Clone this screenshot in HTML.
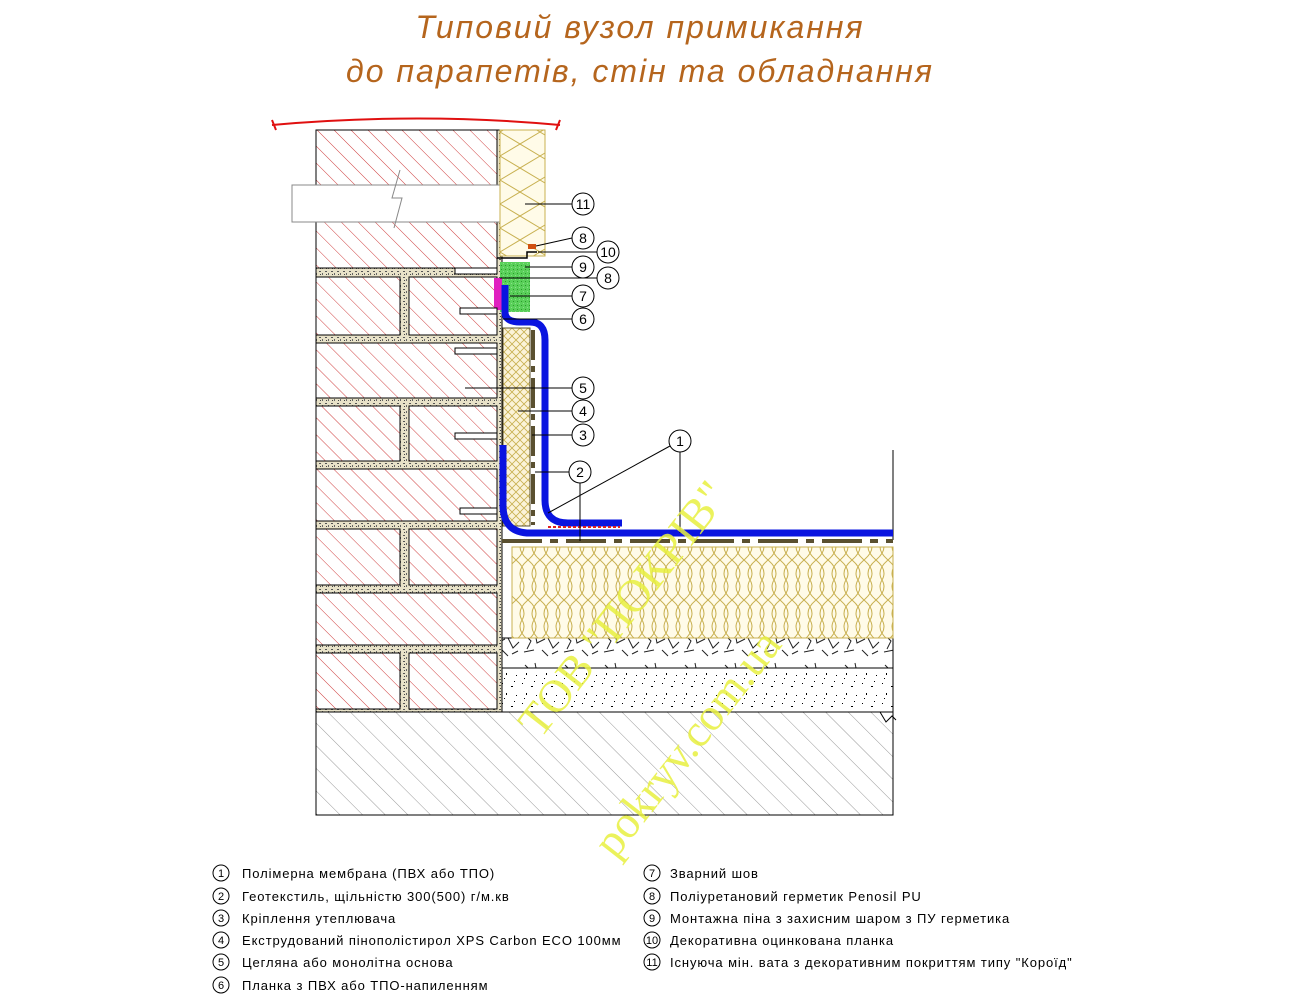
<!DOCTYPE html>
<html><head><meta charset="utf-8"><style>
html,body{margin:0;padding:0;background:#fff;}
svg{display:block;}
.t{font-family:"Liberation Sans","DejaVu Sans",sans-serif;}
</style></head><body>
<svg width="1302" height="1006" viewBox="0 0 1302 1006" xmlns="http://www.w3.org/2000/svg">
<defs>
<pattern id="brick" width="12" height="12" patternUnits="userSpaceOnUse" patternTransform="rotate(-45)">
<rect width="12" height="12" fill="#fff"/><line x1="0" y1="0" x2="0" y2="12" stroke="#d04040" stroke-width="1"/></pattern>
<pattern id="slab" width="16" height="16" patternUnits="userSpaceOnUse" patternTransform="rotate(-45)">
<rect width="16" height="16" fill="#fff"/><line x1="0" y1="0" x2="0" y2="16" stroke="#999" stroke-width="1"/></pattern>
<pattern id="mortar" width="6" height="6" patternUnits="userSpaceOnUse">
<rect width="6" height="6" fill="#e8e2c8"/><rect x="1" y="1" width="2" height="1" fill="#555"/><rect x="4" y="3" width="1" height="2" fill="#666"/><rect x="2" y="4" width="1" height="1" fill="#444"/></pattern>
<pattern id="wool" width="24" height="40" patternUnits="userSpaceOnUse">
<rect width="24" height="40" fill="#fffbe8"/><path d="M0 0 Q12 10 6 20 Q0 30 12 40 M12 0 Q0 10 6 20 Q12 30 0 40 M12 0 Q24 10 18 20 Q12 30 24 40 M24 0 Q12 10 18 20 Q24 30 12 40" fill="none" stroke="#c8b050" stroke-width="1"/></pattern>
<pattern id="woolv" width="40" height="24" patternUnits="userSpaceOnUse">
<rect width="40" height="24" fill="#fffbe8"/><path d="M0 0 L20 12 L0 24 M40 0 L20 12 L40 24" fill="none" stroke="#c8b050" stroke-width="1"/></pattern>
<pattern id="xps" width="8" height="8" patternUnits="userSpaceOnUse">
<rect width="8" height="8" fill="#fbf3d8"/><path d="M0 0 L8 8 M8 0 L0 8" stroke="#c8b050" stroke-width="0.8"/></pattern>
<pattern id="foam" width="4" height="4" patternUnits="userSpaceOnUse">
<rect width="4" height="4" fill="#5ad05a"/><rect x="1" y="1" width="1" height="1" fill="#2a9a2a"/><rect x="3" y="3" width="1" height="1" fill="#8ae08a"/></pattern>
<pattern id="gravel" width="40" height="30" patternUnits="userSpaceOnUse">
<rect width="40" height="30" fill="#fff"/><path d="M5 5 l6 6 l-4 8 M15 3 l2 10 l8 -4 M28 8 l5 10 l6 -6 M4 22 l10 -2 M22 20 l6 6 M32 24 l6 -3" stroke="#222" stroke-width="1" fill="none"/></pattern>
<pattern id="conc" width="20" height="20" patternUnits="userSpaceOnUse">
<rect width="20" height="20" fill="#fff"/><rect x="2" y="3" width="1" height="1" fill="#000"/><rect x="11" y="6" width="2" height="1" fill="#000"/><rect x="6" y="13" width="1" height="2" fill="#000"/><rect x="16" y="15" width="1" height="1" fill="#000"/><rect x="14" y="1" width="1" height="1" fill="#000"/><rect x="4" y="18" width="1" height="1" fill="#000"/></pattern>
</defs>

<text x="640" y="38" text-anchor="middle" class="t" font-size="32" font-style="italic" fill="#b5651d" letter-spacing="2">Типовий вузол примикання</text>
<text x="640" y="82" text-anchor="middle" class="t" font-size="32" font-style="italic" fill="#b5651d" letter-spacing="2">до парапетів, стін та обладнання</text>

<path d="M272 125 Q420 112 560 125" fill="none" stroke="#e01010" stroke-width="2"/>
<path d="M272 120 l4 10 M560 120 l-4 10" stroke="#e01010" stroke-width="2"/>

<rect x="316" y="130" width="186" height="582" fill="url(#mortar)" stroke="#000"/>
<rect x="316" y="130" width="181" height="138" fill="url(#brick)" stroke="#000"/>
<g stroke="#000" fill="url(#brick)">
<rect x="316" y="277" width="84" height="58"/><rect x="409" y="277" width="88" height="58"/>
<rect x="316" y="343" width="181" height="55"/>
<rect x="316" y="406" width="84" height="55"/><rect x="409" y="406" width="88" height="55"/>
<rect x="316" y="469" width="181" height="52"/>
<rect x="316" y="529" width="84" height="56"/><rect x="409" y="529" width="88" height="56"/>
<rect x="316" y="593" width="181" height="52"/>
<rect x="316" y="653" width="84" height="56"/><rect x="409" y="653" width="88" height="56"/>
</g>
<rect x="292" y="185" width="208" height="37" fill="#fff" stroke="#888"/>
<path d="M400 170 l-8 28 l10 0 l-8 30" fill="none" stroke="#888"/>

<rect x="316" y="712" width="577" height="103" fill="url(#slab)" stroke="#000"/>
<path d="M880 712 l6 10 l6 -6 l4 4" stroke="#000" fill="none"/>
<line x1="893" y1="450" x2="893" y2="540" stroke="#000"/>
<rect x="502" y="668" width="391" height="44" fill="url(#conc)" stroke="#000"/>
<rect x="502" y="638" width="391" height="30" fill="url(#gravel)" stroke="#000"/>
<rect x="512" y="547" width="381" height="91" fill="url(#wool)" stroke="#c8b050"/>
<line x1="502" y1="541" x2="893" y2="541" stroke="#5a5030" stroke-width="4" stroke-dasharray="40 8 8 8"/>
<rect x="503" y="328" width="27" height="198" fill="url(#xps)" stroke="#5a5030"/>
<line x1="533" y1="330" x2="533" y2="525" stroke="#5a5030" stroke-width="4" stroke-dasharray="30 6 6 6"/>
<rect x="500" y="130" width="45" height="126" fill="url(#woolv)" stroke="#c8b050"/>
<rect x="500" y="262" width="30" height="50" fill="url(#foam)"/>
<path d="M497 258 h30 v-6 h10" fill="none" stroke="#000" stroke-width="1.5"/>
<rect x="528" y="244" width="8" height="5" fill="#d05010"/>
<rect x="494" y="278" width="8" height="32" fill="#e020c0"/>

<g fill="none" stroke="#0a14e0" stroke-width="7">
<path d="M505 285 V312 Q505 322 520 322 H530 Q545 322 545 340 V500 Q545 523 568 523 H622"/>
<path d="M503 445 V505 Q503 533 530 533 H893"/>
</g>
<line x1="548" y1="527" x2="620" y2="527" stroke="#e02020" stroke-width="2" stroke-dasharray="3 2"/>

<g stroke="#000" fill="#fff">
<rect x="455" y="268" width="42" height="6"/><rect x="460" y="308" width="37" height="6"/>
<rect x="455" y="348" width="42" height="6"/><rect x="455" y="433" width="42" height="6"/>
<rect x="460" y="508" width="37" height="6"/>
</g>

<g stroke="#000" fill="none" stroke-width="1">
<line x1="525" y1="204" x2="572" y2="204"/>
<line x1="536" y1="246" x2="572" y2="238"/>
<line x1="538" y1="252" x2="597" y2="252"/>
<line x1="525" y1="267" x2="572" y2="267"/>
<line x1="500" y1="278" x2="597" y2="278"/>
<line x1="510" y1="296" x2="572" y2="296"/>
<line x1="503" y1="319" x2="572" y2="319"/>
<line x1="465" y1="388" x2="572" y2="388"/>
<line x1="518" y1="411" x2="572" y2="411"/>
<line x1="532" y1="435" x2="572" y2="435"/>
<line x1="535" y1="472" x2="570" y2="472"/>
<line x1="580" y1="482" x2="580" y2="541"/>
<line x1="548" y1="513" x2="670" y2="446"/>
<line x1="680" y1="452" x2="680" y2="533"/>
</g>
<g class="t" font-size="14" text-anchor="middle" stroke="#000" fill="#fff">
<circle cx="583" cy="204" r="11"/><circle cx="583" cy="238" r="11"/><circle cx="608" cy="252" r="11"/>
<circle cx="583" cy="267" r="11"/><circle cx="608" cy="278" r="11"/><circle cx="583" cy="296" r="11"/>
<circle cx="583" cy="319" r="11"/><circle cx="583" cy="388" r="11"/><circle cx="583" cy="411" r="11"/>
<circle cx="583" cy="435" r="11"/><circle cx="580" cy="472" r="11"/><circle cx="680" cy="441" r="11"/>
</g>
<g class="t" font-size="14" text-anchor="middle" fill="#000">
<text x="583" y="209">11</text><text x="583" y="243">8</text><text x="608" y="257">10</text>
<text x="583" y="272">9</text><text x="608" y="283">8</text><text x="583" y="301">7</text>
<text x="583" y="324">6</text><text x="583" y="393">5</text><text x="583" y="416">4</text>
<text x="583" y="440">3</text><text x="580" y="477">2</text><text x="680" y="446">1</text>
</g>

<text x="0" y="0" transform="translate(540,740) rotate(-52)" font-family="Liberation Serif,serif" font-size="46" fill="#e8f040" opacity="0.85">ТОВ "ПОКРІВ"</text>
<text x="0" y="0" transform="translate(615,860) rotate(-52)" font-family="Liberation Serif,serif" font-size="46" fill="#e8f040" opacity="0.85">pokryv.com.ua</text>

<g class="t" font-size="13" fill="#000">
<g stroke="#000" fill="none">
<circle cx="221" cy="873" r="8"/><circle cx="221" cy="896" r="8"/><circle cx="221" cy="918" r="8"/>
<circle cx="221" cy="940" r="8"/><circle cx="221" cy="962" r="8"/><circle cx="221" cy="985" r="8"/>
<circle cx="652" cy="873" r="8"/><circle cx="652" cy="896" r="8"/><circle cx="652" cy="918" r="8"/>
<circle cx="652" cy="940" r="8"/><circle cx="652" cy="962" r="8"/>
</g>
<g font-size="11" text-anchor="middle">
<text x="221" y="877">1</text><text x="221" y="900">2</text><text x="221" y="922">3</text><text x="221" y="944">4</text><text x="221" y="966">5</text><text x="221" y="989">6</text>
<text x="652" y="877">7</text><text x="652" y="900">8</text><text x="652" y="922">9</text><text x="652" y="944">10</text><text x="652" y="966">11</text>
</g>
<g letter-spacing="0.9">
<text x="242" y="878">Полімерна мембрана (ПВХ або ТПО)</text>
<text x="242" y="901">Геотекстиль, щільністю 300(500) г/м.кв</text>
<text x="242" y="923">Кріплення утеплювача</text>
<text x="242" y="945">Екструдований пінополістирол XPS Carbon ECO 100мм</text>
<text x="242" y="967">Цегляна або монолітна основа</text>
<text x="242" y="990">Планка з ПВХ або ТПО-напиленням</text>
<text x="670" y="878">Зварний шов</text>
<text x="670" y="901">Поліуретановий герметик Penosil PU</text>
<text x="670" y="923">Монтажна піна з захисним шаром з ПУ герметика</text>
<text x="670" y="945">Декоративна оцинкована планка</text>
<text x="670" y="967">Існуюча мін. вата з декоративним покриттям типу "Короїд"</text>
</g>
</g>
</svg>
</body></html>
